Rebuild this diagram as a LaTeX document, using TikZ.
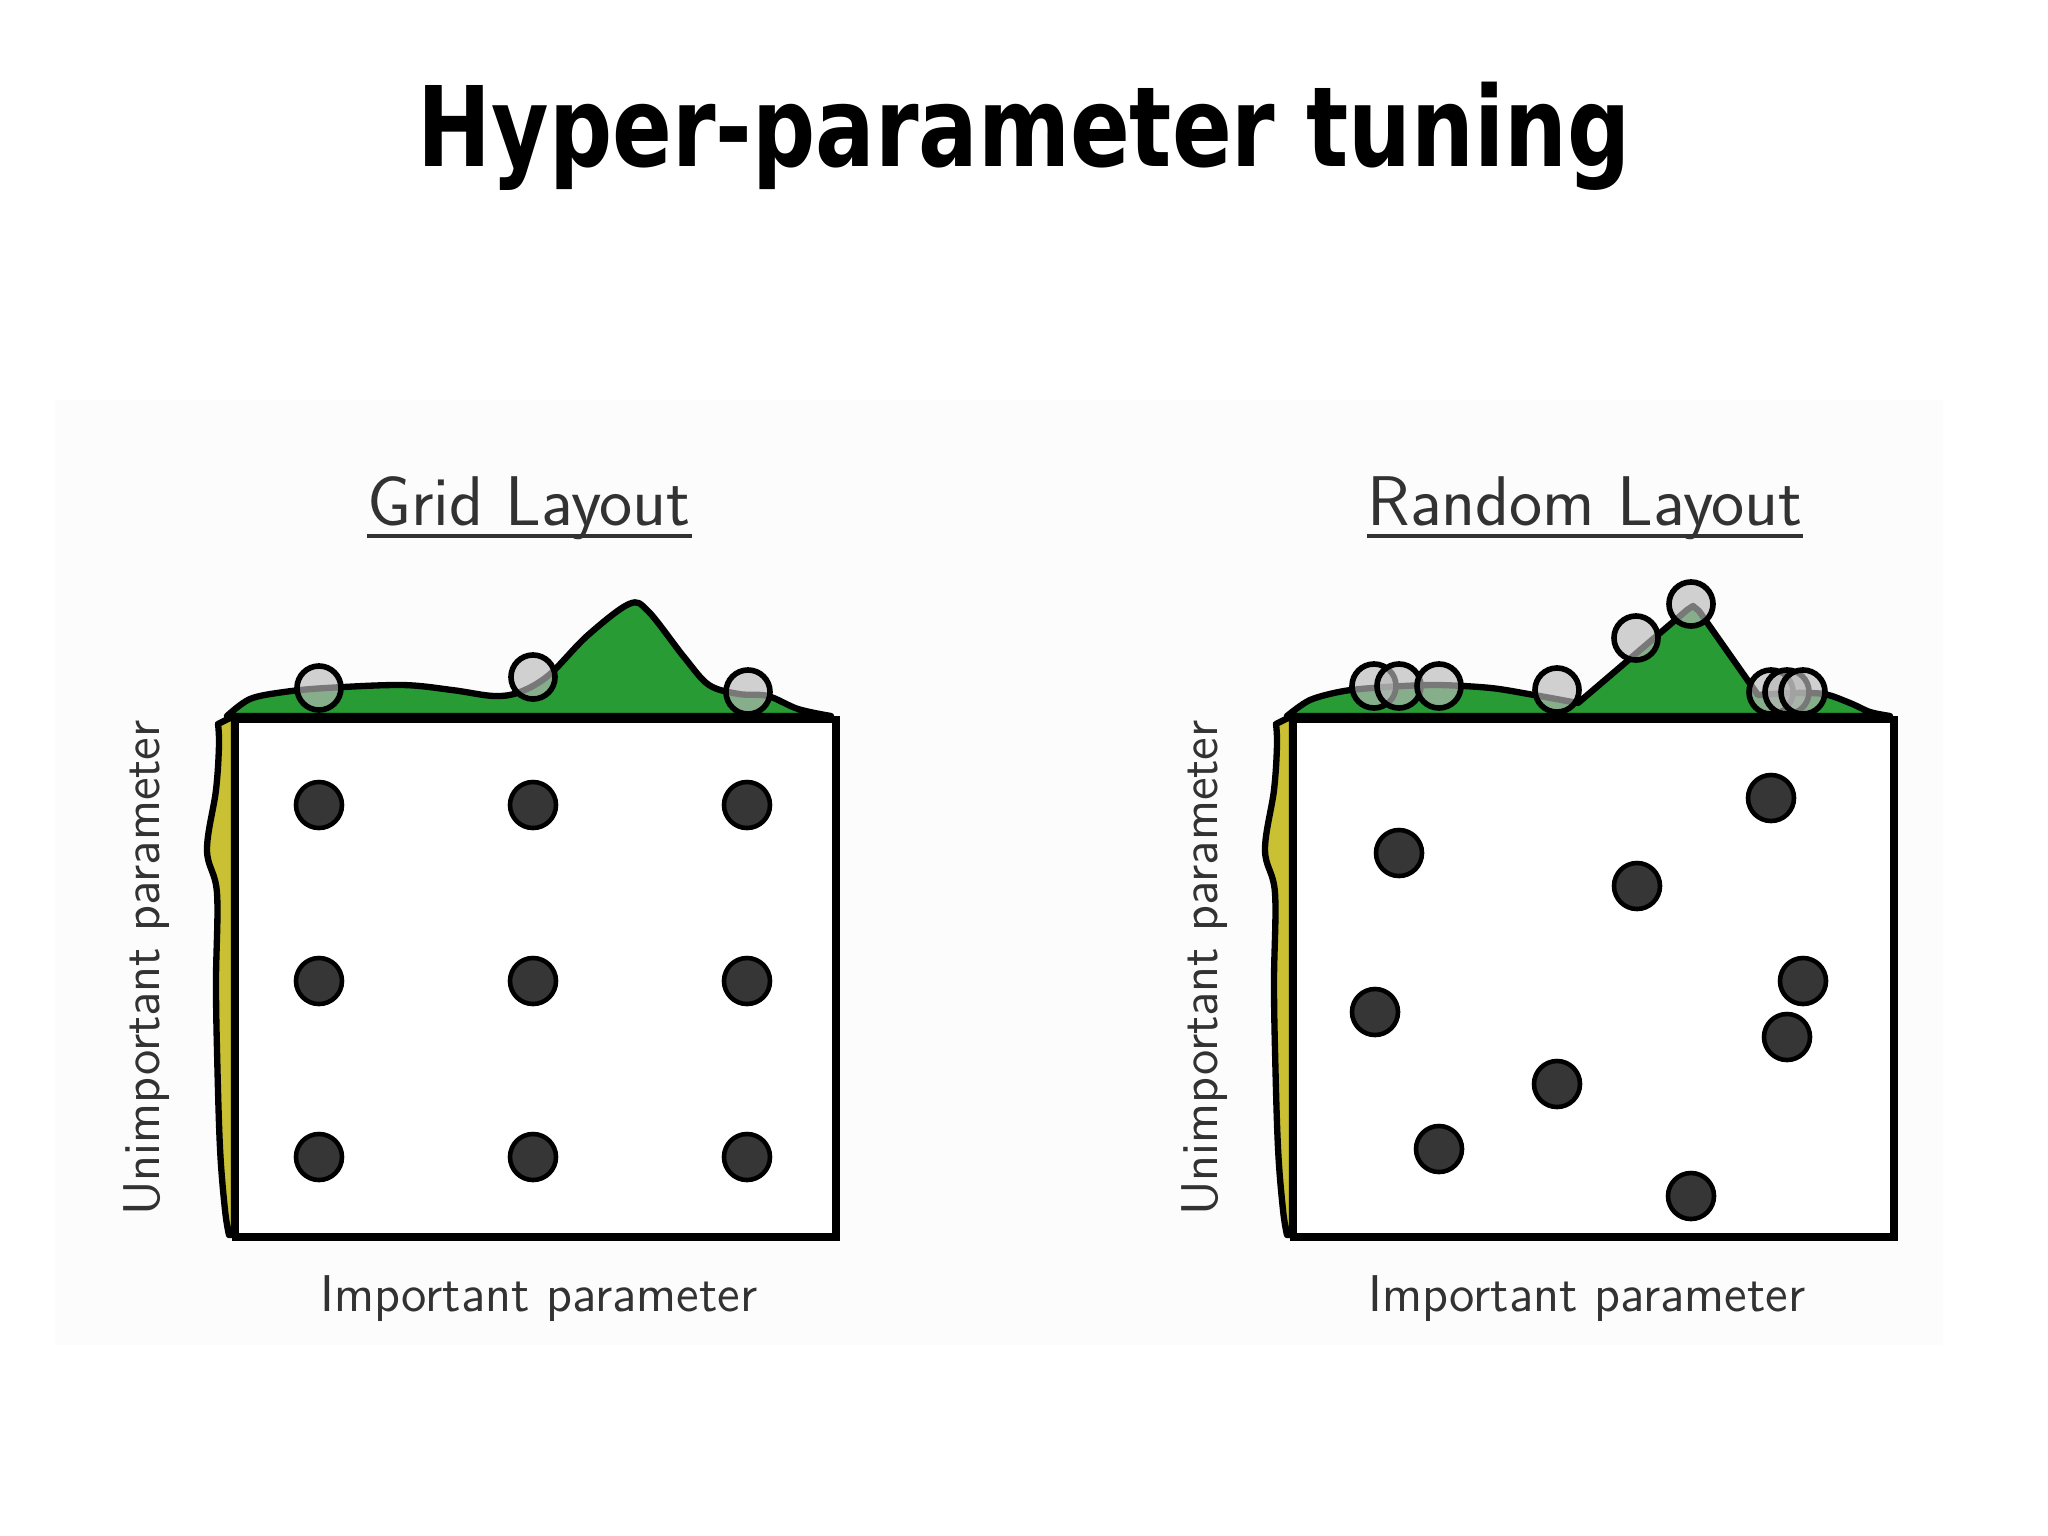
\documentclass[tikz,border=0pt]{standalone}
\usepackage{fontspec}
\usepackage{graphicx}
\newfontfamily\titlefont{DejaVu Sans}
\definecolor{dgreen}{RGB}{40,155,52}
\definecolor{dyellow}{RGB}{202,192,52}
\definecolor{dotfill}{RGB}{54,54,54}
\definecolor{ghost}{RGB}{185,185,185}
\definecolor{txtgray}{RGB}{50,50,50}
\definecolor{panelbg}{RGB}{252,252,252}
\begin{document}
\begin{tikzpicture}[x=0.01cm,y=-0.01cm,
  density/.style={draw=black,line width=1.8pt,line join=round},
  frame/.style={draw=black,fill=white,line width=2.1pt},
  sample/.style={circle,draw=black,fill=dotfill,line width=1.3pt,minimum size=0.46cm,inner sep=0pt},
  proj/.style={circle,draw=black,fill=ghost,fill opacity=0.65,line width=1.6pt,minimum size=0.44cm,inner sep=0pt},
  heading/.style={font=\sffamily\fontsize{20}{22}\selectfont,text=txtgray,inner sep=0pt,anchor=base},
  axislbl/.style={font=\sffamily\fontsize{14.7}{16}\selectfont,text=txtgray,inner sep=0pt,anchor=base}]
\useasboundingbox (0,0) rectangle (2048,1536);
\fill[white] (0,0) rectangle (2048,1536);
\fill[panelbg] (55,400) rectangle (1943,1345);

% title
\node[anchor=base,inner sep=0pt] (title) at (1024,166)
  {\resizebox{12.12cm}{\height}{\titlefont\bfseries\fontsize{31.6}{34}\selectfont Hyper-parameter tuning}};

% ---------------- Grid layout ----------------
\filldraw[density,fill=dgreen] plot[smooth,tension=0.55] coordinates {(227,716) (250,699) (284,692) (326,688) (402,685) (452,690) (494,696) (520,692) (549,675) (587,636) (629,604) (648,611) (684,657) (709,685) (739,694) (768,696) (798,709) (831,716)} -- cycle;
\filldraw[density,fill=dyellow] (234,716) -- plot[smooth,tension=0.6] coordinates {(218,724) (219,745) (216,790) (207,850) (217,893) (216,980) (217,1050) (220,1148) (225,1210) (229,1235)} -- (234,1235) -- cycle;
\node[frame,minimum width=6cm,minimum height=5.17cm,inner sep=0pt,anchor=north west] (boxA) at (232,716) {};

\node[proj] (ga1) at (319,688) {};
\node[proj] (ga2) at (533,677) {};
\node[proj] (ga3) at (748,692) {};

\foreach \i/\x in {1/319,2/533,3/747}{
  \foreach \j/\y in {1/805,2/981,3/1157}{
    \node[sample] (g\i\j) at (\x,\y) {};
  }
}

\node[heading] (tA) at (529,525) {Grid Layout};
\draw[txtgray,line width=1.3pt] ([yshift=-0.11cm]tA.base west) -- ([yshift=-0.11cm]tA.base east);
\node[axislbl] (xA) at (539,1311) {Important parameter};
\node[axislbl,rotate=90] (yA) at (159,968) {Unimportant parameter};

% ---------------- Random layout ----------------
\filldraw[density,fill=dgreen] plot[smooth,tension=0.5] coordinates {(1287,716) (1310,700) (1344,691) (1386,687) (1437,685) (1491,688) (1534,695) (1578,703)} -- (1687,610) -- (1693,606) -- (1699,611) -- (1758,695) -- plot[smooth,tension=0.5] coordinates {(1758,695) (1790,693) (1824,694) (1850,703) (1870,712) (1890,716)} -- cycle;
\filldraw[density,fill=dyellow] (1292,716) -- plot[smooth,tension=0.6] coordinates {(1276,724) (1277,745) (1274,790) (1265,850) (1275,893) (1274,980) (1275,1050) (1278,1148) (1283,1210) (1287,1235)} -- (1292,1235) -- cycle;
\node[frame,minimum width=6cm,minimum height=5.17cm,inner sep=0pt,anchor=north west] (boxB) at (1290,716) {};

\node[proj] (ra1) at (1374,686) {};
\node[proj] (ra2) at (1399,686) {};
\node[proj] (ra3) at (1439,686) {};
\node[proj] (ra4) at (1557,690) {};
\node[proj] (ra5) at (1636,638) {};
\node[proj] (ra6) at (1691,604) {};
\node[proj] (ra7) at (1771,692) {};
\node[proj] (ra8) at (1787,692) {};
\node[proj] (ra9) at (1803,692) {};

\node[sample] (r1) at (1399,853) {};
\node[sample] (r2) at (1637,886) {};
\node[sample] (r3) at (1771,798) {};
\node[sample] (r4) at (1375,1012) {};
\node[sample] (r5) at (1803,981) {};
\node[sample] (r6) at (1787,1037) {};
\node[sample] (r7) at (1557,1084) {};
\node[sample] (r8) at (1439,1149) {};
\node[sample] (r9) at (1691,1196) {};

\node[heading] (tB) at (1585,525) {Random Layout};
\draw[txtgray,line width=1.3pt] ([yshift=-0.11cm]tB.base west) -- ([yshift=-0.11cm]tB.base east);
\node[axislbl] (xB) at (1587,1311) {Important parameter};
\node[axislbl,rotate=90] (yB) at (1217,968) {Unimportant parameter};
\end{tikzpicture}
\end{document}
